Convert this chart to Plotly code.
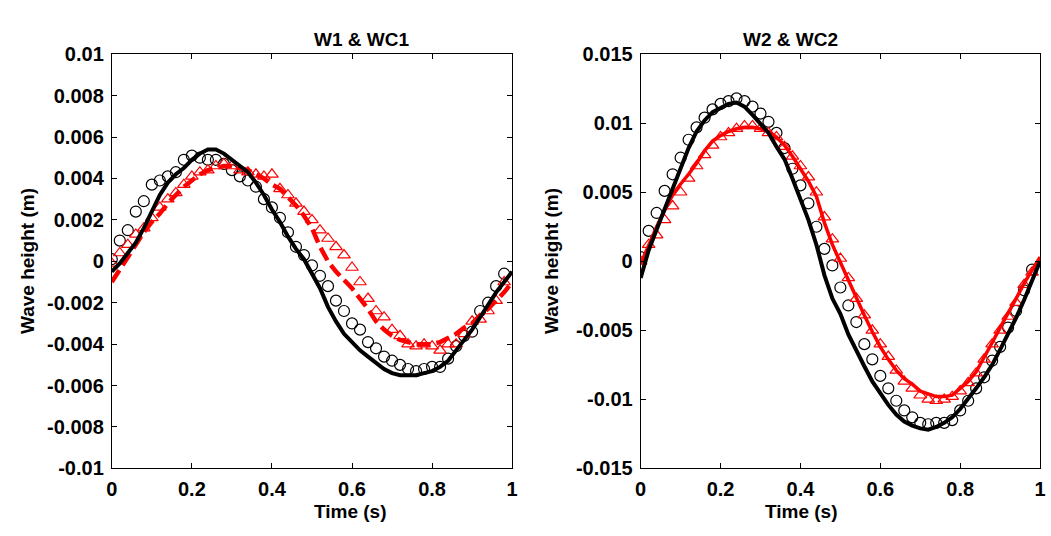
import plotly.graph_objects as go

# ---- data ----
t = [round(0.02 * i, 2) for i in range(51)]
t98 = t[:50]

# Left panel: W1 & WC1
w1_line = [-0.0005, -0.0001, 0.0004, 0.0009, 0.0016, 0.0024, 0.0032, 0.0038, 0.0042, 0.0045,
           0.0049, 0.0052, 0.0054, 0.0054, 0.0052, 0.0049, 0.0046, 0.0043, 0.0038, 0.0032,
           0.0025, 0.0019, 0.0012, 0.0006, 0.0001, -0.0006, -0.0013, -0.0022, -0.0029, -0.0035,
           -0.0039, -0.0043, -0.0046, -0.0049, -0.0052, -0.0054, -0.0055, -0.0055, -0.0055, -0.0054,
           -0.0053, -0.0051, -0.0048, -0.0043, -0.0038, -0.0033, -0.0027, -0.0021, -0.0015, -0.0010,
           -0.0005]
w1_circles = [0.0001, 0.0010, 0.0015, 0.0024, 0.0029, 0.0037, 0.0039, 0.0041, 0.0043, 0.0049,
              0.0051, 0.0050, 0.0049, 0.0049, 0.0047, 0.0044, 0.0041, 0.0039, 0.0036, 0.0030,
              0.0026, 0.0021, 0.0014, 0.0007, 0.0003, -0.0002, -0.0007, -0.0012, -0.0019, -0.0024,
              -0.0030, -0.0033, -0.0039, -0.0042, -0.0046, -0.0048, -0.0050, -0.0052, -0.0053, -0.0052,
              -0.0051, -0.0051, -0.0047, -0.0041, -0.0036, -0.0034, -0.0024, -0.0020, -0.0012, -0.0006]
wc1_line = [-0.0010, -0.0004, 0.0002, 0.0008, 0.0014, 0.0019, 0.0023, 0.0028, 0.0032, 0.0036,
            0.0039, 0.0042, 0.0044, 0.0045, 0.0046, 0.0046, 0.0045, 0.0044, 0.0042, 0.0040,
            0.0037, 0.0035, 0.0031, 0.0027, 0.0022, 0.0016, 0.0007, 0.0000, -0.0005, -0.0009,
            -0.0013, -0.0018, -0.0023, -0.0029, -0.0033, -0.0036, -0.0038, -0.0039, -0.0040, -0.0040,
            -0.0040, -0.0039, -0.0037, -0.0035, -0.0032, -0.0030, -0.0026, -0.0023, -0.0019, -0.0015,
            -0.0010]
wc1_tri = [-0.0001, 0.0004, 0.0008, 0.0013, 0.0016, 0.0021, 0.0026, 0.0030, 0.0033, 0.0037,
           0.0041, 0.0043, 0.0044, 0.0046, 0.0047, 0.0046, 0.0044, 0.0043, 0.0042, 0.0041,
           0.0042, 0.0035, 0.0032, 0.0028, 0.0024, 0.0020, 0.0015, 0.0011, 0.0007, 0.0003,
           -0.0003, -0.0010, -0.0018, -0.0024, -0.0027, -0.0033, -0.0036, -0.0040, -0.0041, -0.0040,
           -0.0041, -0.0043, -0.0040, -0.0040, -0.0035, -0.0029, -0.0028, -0.0024, -0.0019, -0.0010]

# Right panel: W2 & WC2
w2_line = [-0.0012, 0.0008, 0.0023, 0.0038, 0.0052, 0.0068, 0.0082, 0.0094, 0.0102, 0.0108,
           0.0111, 0.0114, 0.0115, 0.0112, 0.0106, 0.0100, 0.0093, 0.0083, 0.0074, 0.0060,
           0.0045, 0.0030, 0.0012, -0.0010, -0.0027, -0.0038, -0.0053, -0.0065, -0.0076, -0.0087,
           -0.0096, -0.0104, -0.0111, -0.0116, -0.0119, -0.0121, -0.0122, -0.0120, -0.0117, -0.0113,
           -0.0107, -0.0100, -0.0092, -0.0084, -0.0075, -0.0064, -0.0053, -0.0041, -0.0028, -0.0014,
           0.0000]
w2_circles = [0.0003, 0.0022, 0.0035, 0.0051, 0.0063, 0.0075, 0.0088, 0.0097, 0.0104, 0.0110,
              0.0114, 0.0116, 0.0118, 0.0116, 0.0112, 0.0107, 0.0101, 0.0093, 0.0082, 0.0067,
              0.0055, 0.0042, 0.0025, 0.0009, -0.0003, -0.0019, -0.0032, -0.0044, -0.0060, -0.0071,
              -0.0083, -0.0092, -0.0101, -0.0108, -0.0113, -0.0117, -0.0118, -0.0117, -0.0117, -0.0115,
              -0.0108, -0.0101, -0.0092, -0.0084, -0.0072, -0.0062, -0.0048, -0.0036, -0.0021, -0.0006]
wc2_line = [-0.0002, 0.0012, 0.0025, 0.0037, 0.0048, 0.0056, 0.0063, 0.0071, 0.0080, 0.0087,
            0.0091, 0.0094, 0.0096, 0.0097, 0.0097, 0.0096, 0.0094, 0.0090, 0.0084, 0.0076,
            0.0067, 0.0058, 0.0047, 0.0028, 0.0012, -0.0001, -0.0013, -0.0026, -0.0039, -0.0051,
            -0.0062, -0.0071, -0.0079, -0.0085, -0.0089, -0.0094, -0.0096, -0.0098, -0.0098, -0.0097,
            -0.0092, -0.0087, -0.0080, -0.0070, -0.0059, -0.0048, -0.0038, -0.0027, -0.0016, -0.0006,
            0.0003]
wc2_tri = [0.0000, 0.0012, 0.0019, 0.0030, 0.0040, 0.0050, 0.0060, 0.0069, 0.0077, 0.0084,
           0.0090, 0.0093, 0.0096, 0.0098, 0.0098, 0.0096, 0.0093, 0.0090, 0.0083, 0.0076,
           0.0069, 0.0061, 0.0050, 0.0032, 0.0016, 0.0002, -0.0012, -0.0027, -0.0039, -0.0050,
           -0.0060, -0.0069, -0.0079, -0.0087, -0.0092, -0.0097, -0.0100, -0.0101, -0.0100, -0.0098,
           -0.0094, -0.0088, -0.0081, -0.0071, -0.0060, -0.0050, -0.0040, -0.0030, -0.0017, -0.0008,
           -0.0001]

x_ticks = [0, 0.2, 0.4, 0.6, 0.8, 1]
x_ticktext = ["0", "0.2", "0.4", "0.6", "0.8", "1"]
y1_ticks = [-0.01, -0.008, -0.006, -0.004, -0.002, 0, 0.002, 0.004, 0.006, 0.008, 0.01]
y1_ticktext = ["-0.01", "-0.008", "-0.006", "-0.004", "-0.002", "0", "0.002", "0.004", "0.006", "0.008", "0.01"]
y2_ticks = [-0.015, -0.01, -0.005, 0, 0.005, 0.01, 0.015]
y2_ticktext = ["-0.015", "-0.01", "-0.005", "0", "0.005", "0.01", "0.015"]

titles = ["W1 & WC1", "W2 & WC2"]
x_title = "Time (s)"
y_title = "Wave height (m)"

# ---- figure ----
W, H = 1051, 536
FONT = "Liberation Sans, Arial, Helvetica, sans-serif"
TICK_SIZE = 20
LABEL_SIZE = 19
fig = go.Figure()

def add_panel(xa, ya, line_k, circ, line_r, tri, circ_t, tri_t, red_dash):
    fig.add_trace(go.Scatter(x=circ_t, y=circ, mode="markers", xaxis=xa, yaxis=ya,
                             marker=dict(symbol="circle-open", size=11, color="black",
                                         line=dict(width=1.2, color="black")), showlegend=False))
    fig.add_trace(go.Scatter(x=tri_t, y=tri, mode="markers", xaxis=xa, yaxis=ya,
                             marker=dict(symbol="triangle-up-open", size=11, color="red",
                                         line=dict(width=1.2, color="red")), showlegend=False))
    fig.add_trace(go.Scatter(x=t, y=line_r, mode="lines", xaxis=xa, yaxis=ya,
                             line=dict(color="red", width=4.5 if red_dash else 3.5,
                                       dash="14px,6px" if red_dash else "solid"),
                             showlegend=False))
    fig.add_trace(go.Scatter(x=t, y=line_k, mode="lines", xaxis=xa, yaxis=ya,
                             line=dict(color="black", width=4), showlegend=False))

add_panel("x", "y", w1_line, w1_circles, wc1_line, wc1_tri, t98, t98, True)
add_panel("x2", "y2", w2_line, w2_circles, wc2_line, wc2_tri, t98, t, False)

TOP, BOT = 45, 477
y_dom = [1 - BOT / H, 1 - TOP / H]
axis_common = dict(showgrid=False, zeroline=False, showline=True, linecolor="black", linewidth=1,
                   mirror="allticks", ticks="inside", ticklen=5, tickwidth=1, tickcolor="black",
                   tickfont=dict(family=FONT, size=TICK_SIZE, color="black", weight="bold"))

fig.update_layout(
    width=W, height=H,
    margin=dict(l=0, r=0, t=0, b=0),
    paper_bgcolor="white", plot_bgcolor="white",
    font=dict(family=FONT, size=TICK_SIZE, color="black"),
    xaxis=dict(domain=[107 / W, 512 / W], range=[0, 1], tickvals=x_ticks, ticktext=x_ticktext,
               anchor="y", ticklabelstandoff=3, **axis_common),
    yaxis=dict(domain=y_dom, range=[-0.01, 0.01], tickvals=y1_ticks, ticktext=y1_ticktext,
               anchor="x", ticklabelstandoff=3, **axis_common),
    xaxis2=dict(domain=[642 / W, 1046 / W], range=[0, 1], tickvals=x_ticks, ticktext=x_ticktext,
                anchor="y2", ticklabelstandoff=3, **axis_common),
    yaxis2=dict(domain=y_dom, range=[-0.015, 0.015], tickvals=y2_ticks, ticktext=y2_ticktext,
                anchor="x2", ticklabelstandoff=3, **axis_common),
)

lab_font = dict(family=FONT, size=LABEL_SIZE, color="black", weight="bold")
panel_centers = [(107 + 512) / 2 / W, (642 + 1046) / 2 / W]
for xc, txt in zip(panel_centers, titles):
    fig.add_annotation(x=xc, y=1 - TOP / H, xref="paper", yref="paper", text=txt,
                       showarrow=False, yanchor="bottom", yshift=2, font=lab_font)
    fig.add_annotation(x=xc, y=1 - 522 / H, xref="paper", yref="paper", text=x_title,
                       showarrow=False, yanchor="middle", font=lab_font)
for xp in [22, 552]:
    fig.add_annotation(x=xp / W, y=1 - 261 / H, xref="paper", yref="paper", text=y_title,
                       showarrow=False, textangle=-90, xanchor="center", yanchor="middle",
                       font=lab_font)

fig.write_html("out.html")
